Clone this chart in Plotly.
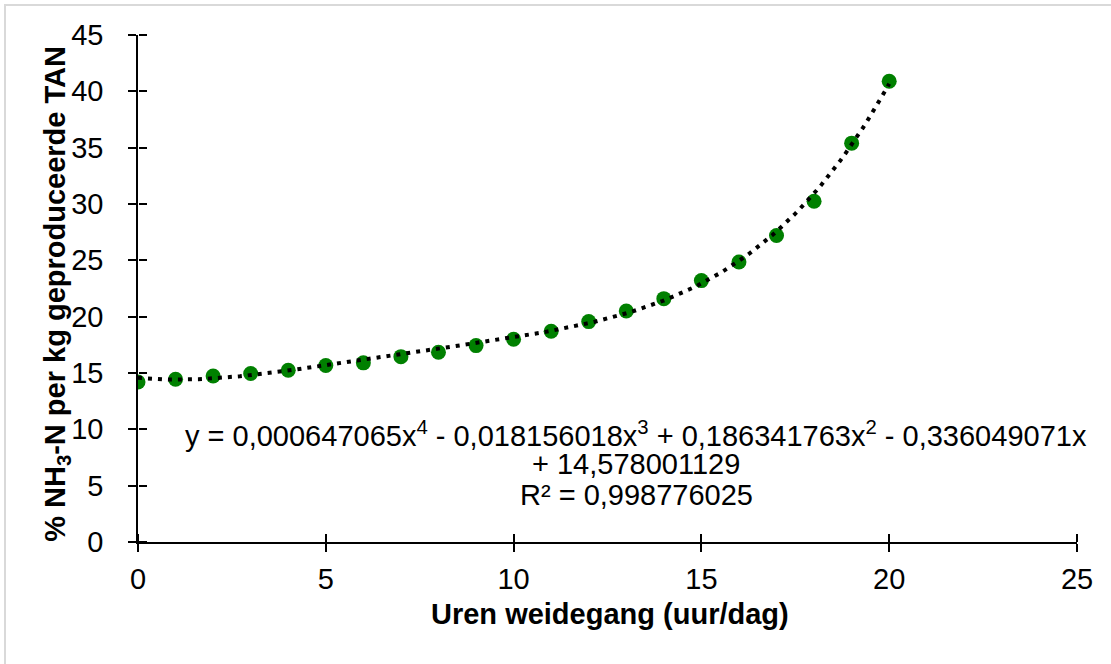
import plotly.graph_objects as go
import numpy as np

hours = list(range(0, 21))
nh3_pct = [14.2, 14.45, 14.74, 14.95, 15.25, 15.66, 15.9, 16.45, 16.84, 17.43,
           18.0, 18.7, 19.56, 20.5, 21.6, 23.2, 24.85, 27.2, 30.25, 35.4, 40.9]
# polynomial trendline coefficients (as shown in the chart), highest power first
trend_coefs = [0.000647065, -0.018156018, 0.186341763, -0.336049071, 14.578001129]
x_ticks = [0, 5, 10, 15, 20, 25]
y_ticks = [0, 5, 10, 15, 20, 25, 30, 35, 40, 45]
eq_lines = ["y = 0,000647065x<sup>4</sup> - 0,018156018x<sup>3</sup> + 0,186341763x<sup>2</sup> - 0,336049071x",
            "+ 14,578001129",
            "R² = 0,998776025"]

trend_x = np.linspace(0, 20, 200)
trend_y = np.polyval(trend_coefs, trend_x)

FONT = "Liberation Sans, Arial, sans-serif"
FS = 29

W, H = 1111, 664
PL, PR, PT, PB = 138, 1077, 35, 542.3   # plot area in page pixels
L = PL
R = W - PR
T = PT
B = H - PB
pw = W - L - R
ph = H - T - B
def px_x(p):
    return (p - L) / pw
def px_y(p):
    return (H - B - p) / ph

fig = go.Figure()
fig.add_trace(go.Scatter(x=hours, y=nh3_pct, mode="markers",
                         marker=dict(color="#008000", size=15, line=dict(width=0)),
                         showlegend=False, hoverinfo="skip"))
fig.add_trace(go.Scatter(x=trend_x, y=trend_y, mode="lines",
                         line=dict(color="black", width=4, dash="4px,6px"),
                         showlegend=False, hoverinfo="skip"))
# invisible trace to carry the overlay axes (inner half of the crossing ticks)
fig.add_trace(go.Scatter(x=[0], y=[0], xaxis="x2", yaxis="y2", mode="markers",
                         marker=dict(size=1, opacity=0), showlegend=False, hoverinfo="skip"))

axis_common = dict(showgrid=False, zeroline=False, automargin=False,
                   tickwidth=1.5, ticklen=8, tickcolor="black",
                   tickfont=dict(size=FS, family=FONT, color="black"))

fig.update_layout(
    width=W, height=H,
    margin=dict(l=L, r=R, t=T, b=B, pad=0),
    paper_bgcolor="white", plot_bgcolor="white",
    font=dict(family=FONT, color="black", size=FS),
    xaxis=dict(range=[0, 25], tickvals=x_ticks, showline=True, linecolor="black", linewidth=1.5,
               ticks="outside", ticklabelstandoff=2, **axis_common),
    yaxis=dict(range=[0, 45], tickvals=y_ticks, showline=True, linecolor="black", linewidth=1.5,
               ticks="outside", ticklabelstandoff=19, **axis_common),
    # top-side axis placed at the bottom edge: its outside ticks point up into the plot
    xaxis2=dict(range=[0, 25], tickvals=x_ticks, overlaying="x", anchor="free", position=0,
                side="top", showline=False, ticks="outside", showticklabels=False, **axis_common),
    # right-side axis placed at the left edge: its outside ticks point right into the plot
    yaxis2=dict(range=[0, 45], tickvals=y_ticks, overlaying="y", anchor="free", position=0,
                side="right", showline=False, ticks="outside", showticklabels=False, **axis_common),
)

annotations = [
    dict(x=px_x(636), y=px_y(434), text=eq_lines[0]),
    dict(x=px_x(636), y=px_y(464), text=eq_lines[1]),
    dict(x=px_x(636), y=px_y(495), text=eq_lines[2]),
    dict(x=px_x(610), y=px_y(614), text="<b>Uren weidegang (uur/dag)</b>"),
    dict(x=px_x(57), y=px_y(294), text="<b>% NH<sub>3</sub>-N per kg geproduceerde TAN</b>", textangle=-90),
]
for a in annotations:
    a.update(xref="paper", yref="paper", showarrow=False, xanchor="center", yanchor="middle",
             font=dict(size=FS, family=FONT, color="black"))
fig.update_layout(annotations=annotations)

# light grey outer border (only top/left edges visible in frame)
fig.add_shape(type="rect", xref="paper", yref="paper",
              x0=px_x(5), x1=px_x(1200), y0=px_y(760), y1=px_y(5),
              line=dict(color="#d9d9d9", width=2), layer="below")

fig.write_html("out.html", config={"displayModeBar": False},
               post_script="document.body.style.margin='0';document.body.style.overflow='hidden';")
